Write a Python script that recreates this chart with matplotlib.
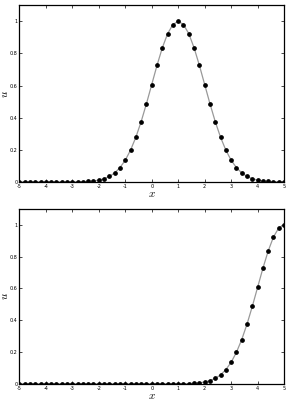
import matplotlib
matplotlib.use("Agg")
import matplotlib.pyplot as plt

plt.rcParams['mathtext.fontset'] = 'cm'

x = [-5.0, -4.8, -4.6, -4.4, -4.2, -4.0, -3.8, -3.6, -3.4, -3.2,
     -3.0, -2.8, -2.6, -2.4, -2.2, -2.0, -1.8, -1.6, -1.4, -1.2,
     -1.0, -0.8, -0.6, -0.4, -0.2, 0.0, 0.2, 0.4, 0.6, 0.8,
     1.0, 1.2, 1.4, 1.6, 1.8, 2.0, 2.2, 2.4, 2.6, 2.8,
     3.0, 3.2, 3.4, 3.6, 3.8, 4.0, 4.2, 4.4, 4.6, 4.8, 5.0]

# top panel: pulse centred near x = 1
u_top = [0.0000, 0.0000, 0.0000, 0.0000, 0.0000, 0.0000, 0.0000, 0.0000, 0.0001, 0.0002,
         0.0003, 0.0007, 0.0015, 0.0031, 0.0060, 0.0111, 0.0198, 0.0340, 0.0561, 0.0889,
         0.1353, 0.1979, 0.2780, 0.3753, 0.4868, 0.6065, 0.7261, 0.8353, 0.9231, 0.9802,
         1.0000, 0.9802, 0.9231, 0.8353, 0.7261, 0.6065, 0.4868, 0.3753, 0.2780, 0.1979,
         0.1353, 0.0889, 0.0561, 0.0340, 0.0198, 0.0111, 0.0060, 0.0031, 0.0015, 0.0007, 0.0003]

# bottom panel: pulse moved to the right edge
u_bot = [0.0000, 0.0000, 0.0000, 0.0000, 0.0000, 0.0000, 0.0000, 0.0000, 0.0000, 0.0000,
         0.0000, 0.0000, 0.0000, 0.0000, 0.0000, 0.0000, 0.0000, 0.0000, 0.0000, 0.0000,
         0.0000, 0.0000, 0.0000, 0.0000, 0.0000, 0.0000, 0.0000, 0.0000, 0.0001, 0.0002,
         0.0003, 0.0007, 0.0015, 0.0031, 0.0060, 0.0111, 0.0198, 0.0340, 0.0561, 0.0889,
         0.1353, 0.1979, 0.2780, 0.3753, 0.4868, 0.6065, 0.7261, 0.8353, 0.9231, 0.9802, 1.0000]

xticks = [-5, -4, -3, -2, -1, 0, 1, 2, 3, 4, 5]
yticks = [0, 0.2, 0.4, 0.6, 0.8, 1]
yticklabels = ["0", "0.2", "0.4", "0.6", "0.8", "1"]

fig = plt.figure(figsize=(2.89, 4.07), dpi=100)
ax1 = fig.add_axes([0.067, 0.553, 0.916, 0.434])
ax2 = fig.add_axes([0.067, 0.057, 0.916, 0.430])

for ax, u in [(ax1, u_top), (ax2, u_bot)]:
    ax.plot(x, u, color="#999999", lw=0.9, zorder=2)
    ax.plot(x, u, "o", color="black", ms=2.4, mec="black", zorder=3)
    ax.set_xlim(-5, 5)
    ax.set_ylim(0, 1.1)
    ax.set_xticks(xticks)
    ax.set_xticklabels([str(t) for t in xticks])
    ax.set_yticks(yticks)
    ax.set_yticklabels(yticklabels)
    ax.tick_params(direction="in", length=2, width=0.5, labelsize=3.5, pad=1.5,
                   top=True, right=True)
    for s in ax.spines.values():
        s.set_linewidth(0.9)
    ax.set_xlabel("$x$", fontsize=8, labelpad=0)
    ax.set_ylabel("$u$", fontsize=8, labelpad=0)

plt.savefig("out.png", dpi=100)
